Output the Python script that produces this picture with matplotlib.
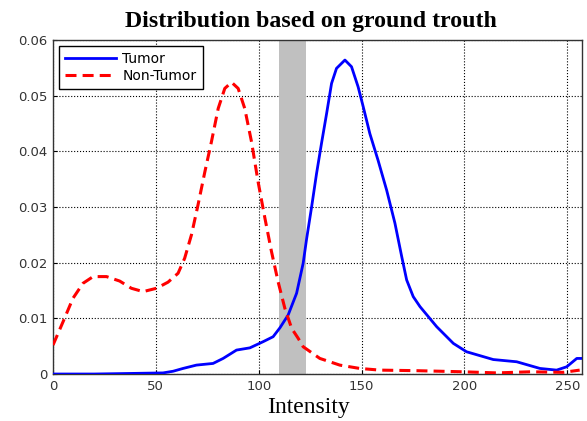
import matplotlib
matplotlib.use("Agg")
import matplotlib.pyplot as plt

tumor_x = [0, 20, 37.3, 53.5, 58.4, 63.2, 69.7, 77.8, 82.7, 89.2, 95.7, 102.1, 107, 110.3, 114.3,
           118.4, 121.6, 123.2, 125.7, 128.1, 130.5, 133, 135.4, 137.8, 141.9, 145.1, 148.3,
           150.8, 154, 158, 162.2, 166.2, 169.5, 171.9, 175.1, 178.4, 186.5, 194.6, 201, 214,
           225.4, 236.7, 244.8, 249.7, 254.6, 257]
tumor_y = [0, 0, 0.0001, 0.0002, 0.0005, 0.001, 0.0016, 0.0019, 0.0028, 0.0043, 0.0047, 0.0058,
           0.0067, 0.0083, 0.0106, 0.0145, 0.0199, 0.0241, 0.030, 0.036, 0.0414, 0.0468, 0.0522,
           0.0549, 0.0564, 0.0552, 0.0516, 0.048, 0.0432, 0.0384, 0.033, 0.0271, 0.0211, 0.0169,
           0.0139, 0.0121, 0.0085, 0.0055, 0.004, 0.0026, 0.0022, 0.001, 0.0007, 0.0013, 0.0028,
           0.0028]

nontumor_x = [0, 4.9, 9.7, 14.6, 19.5, 26, 32.4, 38.1, 43.8, 50.3, 55.9, 60.8, 64, 67.3, 70.5,
              73.8, 77, 80.3, 83.5, 86.8, 90, 93.2, 96.5, 99.7, 103, 106.2, 109.4, 112.7, 116,
              119.2, 121.6, 129.7, 139.4, 149.1, 158.9, 176.7, 199.4, 215.7, 232, 248, 256]
nontumor_y = [0.0052, 0.0094, 0.0136, 0.0163, 0.0175, 0.0175, 0.0167, 0.0154, 0.0148, 0.0154,
              0.0165, 0.0181, 0.0208, 0.025, 0.0304, 0.0363, 0.0417, 0.0477, 0.0513, 0.0524,
              0.0513, 0.0477, 0.0417, 0.0345, 0.028, 0.022, 0.0166, 0.0118, 0.0082, 0.0064,
              0.0049, 0.0028, 0.0016, 0.001, 0.0007, 0.0006, 0.0004, 0.0002, 0.0004, 0.0003,
              0.0007]

threshold_band = [110, 123]
x_ticks = [0, 50, 100, 150, 200, 250]
y_ticks = [0, 0.01, 0.02, 0.03, 0.04, 0.05, 0.06]
y_tick_labels = ["0", "0.01", "0.02", "0.03", "0.04", "0.05", "0.06"]

fig = plt.figure(figsize=(5.87, 4.21), dpi=100)
ax = fig.add_axes([0.0903, 0.1116, 0.9007, 0.7934])

ax.axvspan(threshold_band[0], threshold_band[1], color="#c0c0c0", zorder=1, lw=0)
ax.plot(tumor_x, tumor_y, color="#0000ff", lw=2.0, label="Tumor", zorder=3,
        solid_joinstyle="round")
ax.plot(nontumor_x, nontumor_y, color="#ff0000", lw=2.2, ls=(0, (3.6, 2.0)),
        label="Non-Tumor", zorder=3)

ax.set_xlim(0, 257)
ax.set_ylim(0, 0.06)
ax.set_xticks(x_ticks)
ax.set_yticks(y_ticks)
ax.set_yticklabels(y_tick_labels)
ax.grid(True, color="black", ls=":", lw=0.8, zorder=0)
ax.set_axisbelow(True)
ax.tick_params(direction="in", labelsize=9.5, length=3, pad=4)
for lab in ax.get_xticklabels() + ax.get_yticklabels():
    lab.set_family("DejaVu Sans")
    lab.set_color("#333333")
for s in ax.spines.values():
    s.set_color("#333333")
    s.set_linewidth(1.0)

fig.text(310.5 / 587, 1 - 27 / 421, "Distribution based on ground trouth",
         family="Liberation Serif", fontweight="bold", fontsize=17.2,
         ha="center", va="baseline")
ax.set_xlabel("Intensity", family="Liberation Serif", fontsize=17)
ax.xaxis.set_label_coords(0.483, -0.117)
ax.xaxis.label.set_va("baseline")

leg = ax.legend(loc="upper left", prop={"family": "DejaVu Sans", "size": 10},
                frameon=True, fancybox=False, edgecolor="black", framealpha=1,
                handlelength=3.7, borderpad=0.45, labelspacing=0.2, handletextpad=0.45,
                borderaxespad=0.4)
leg.get_frame().set_linewidth(1.0)

fig.savefig("out.png", dpi=100)
